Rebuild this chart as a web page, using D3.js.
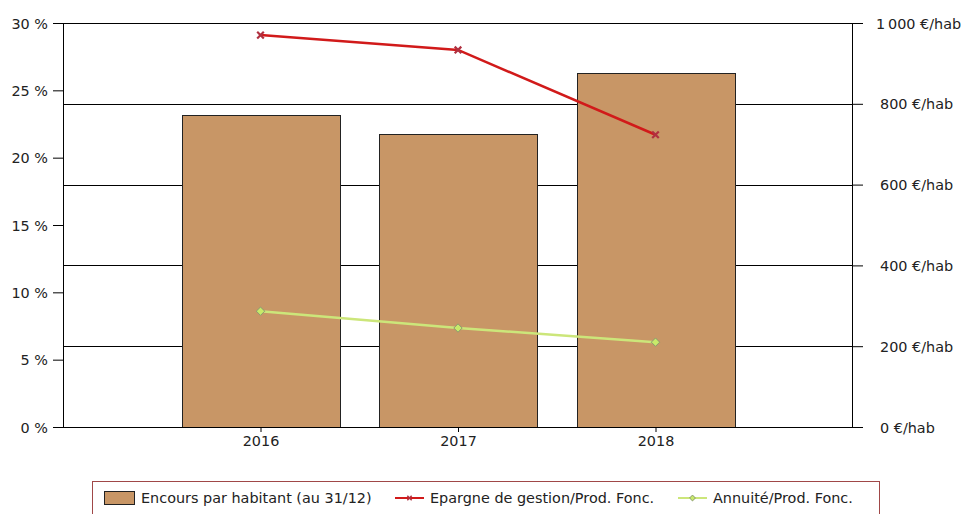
<!DOCTYPE html>
<html>
<head>
<meta charset="utf-8">
<script src="https://cdn.jsdelivr.net/npm/d3@7"></script>
<style>
  body { margin: 0; background: #fff; }
  text { font-family: "DejaVu Sans", Verdana, sans-serif; }
</style>
</head>
<body>
<div id="container"></div>
<script>
const years = ["2016", "2017", "2018"];
const encours = [772, 725, 876];          // €/hab, right axis
const epargne = [29.1, 28.0, 21.7];       // %, left axis
const annuite = [8.6, 7.35, 6.3];         // %, left axis
const leftTicks = [0, 5, 10, 15, 20, 25, 30];
const rightTicks = [0, 200, 400, 600, 800, 1000];
const legendLabels = ["Encours par habitant (au 31/12)", "Epargne de gestion/Prod. Fonc.", "Annuité/Prod. Fonc."];

const W = 967, H = 514;
const FS = 14.4;
const margin = { top: 23, right: 114, bottom: 87, left: 63 };
const width = W - margin.left - margin.right,
      height = H - margin.top - margin.bottom;

const svg = d3.select("#container").append("svg")
  .attr("width", W).attr("height", H);
const g = svg.append("g").attr("transform", `translate(${margin.left},${margin.top})`);

// x: 4 slots, years sit on 1..3
const x = d3.scaleLinear().domain([0, 4]).range([0, width]);
const slot = x(1) - x(0);
const yL = d3.scaleLinear().domain([0, 30]).range([height, 0]);
const yR = d3.scaleLinear().domain([0, 1000]).range([height, 0]);

// gridlines (right axis ticks)
g.selectAll(".grid").data(rightTicks.slice(1)).enter().append("line")
  .attr("x1", 0).attr("x2", width)
  .attr("y1", d => Math.round(yR(d)) + 0.5).attr("y2", d => Math.round(yR(d)) + 0.5)
  .attr("stroke", "#000").attr("stroke-width", 1);

// bars
const bw = slot * 0.8;
g.selectAll(".bar").data(encours).enter().append("rect")
  .attr("x", (d, i) => Math.round(x(i + 1) - bw / 2) + 0.5)
  .attr("y", d => Math.round(yR(d)) + 0.5)
  .attr("width", Math.round(bw))
  .attr("height", d => height - Math.round(yR(d)))
  .attr("fill", "#c89666")
  .attr("stroke", "#222").attr("stroke-width", 1);

// axes
const axL = g.append("g").call(d3.axisLeft(yL).tickValues(leftTicks).tickSize(10).tickPadding(5).tickFormat(d => d + " %"));
const axR = g.append("g").attr("transform", `translate(${width},0)`)
  .call(d3.axisRight(yR).tickValues(rightTicks).tickSize(10).tickPadding(17)
    .tickFormat(d => (d >= 1000 ? d3.format(",")(d).replace(",", "\u202f") : d) + " €/hab"));
const axB = g.append("g").attr("transform", `translate(0,${height})`)
  .call(d3.axisBottom(x).tickValues([1, 2, 3]).tickSize(5).tickPadding(4).tickFormat(d => years[d - 1]));
[axL, axR, axB].forEach(a => {
  a.select(".domain").remove();
  a.selectAll("text").attr("font-size", FS).attr("fill", "#222")
    .style("font-family", "'DejaVu Sans', Verdana, sans-serif");
  a.selectAll(".tick line").attr("stroke", "#000");
});
axL.selectAll("text").attr("dy", "0.35em");
axR.selectAll("text").attr("dy", "0.35em");
axR.selectAll("text").filter(d => d >= 1000).attr("dx", -4);

// frame lines
g.append("line").attr("x1", 0.5).attr("x2", 0.5).attr("y1", 0).attr("y2", height).attr("stroke", "#000");
g.append("line").attr("x1", width - 0.5).attr("x2", width - 0.5).attr("y1", 0).attr("y2", height).attr("stroke", "#000");
g.append("line").attr("x1", 0).attr("x2", width).attr("y1", 0.5).attr("y2", 0.5).attr("stroke", "#000");
g.append("line").attr("x1", 0).attr("x2", width).attr("y1", height + 0.5).attr("y2", height + 0.5).attr("stroke", "#000");

// lines
const line = d3.line().x((d, i) => x(i + 1)).y(d => yL(d));
g.append("path").datum(epargne).attr("d", line)
  .attr("fill", "none").attr("stroke", "#d11a1a").attr("stroke-width", 2.5);
g.append("path").datum(annuite).attr("d", line)
  .attr("fill", "none").attr("stroke", "#cce67a").attr("stroke-width", 2.5);

const cross = d3.symbol().type(d3.symbolX).size(30);
g.selectAll(".mx").data(epargne).enter().append("path")
  .attr("d", cross)
  .attr("transform", (d, i) => `translate(${x(i + 1)},${yL(d)})`)
  .attr("stroke", "#b03040").attr("stroke-width", 2.2).attr("fill", "none");
const diamond = d3.symbol().type(d3.symbolDiamond2).size(45);
g.selectAll(".md").data(annuite).enter().append("path")
  .attr("d", diamond)
  .attr("transform", (d, i) => `translate(${x(i + 1)},${yL(d)})`)
  .attr("fill", "#c8ea6a").attr("stroke", "#8a9a70").attr("stroke-width", 1);

// legend
const lg = svg.append("g");
lg.append("rect").attr("x", 92.5).attr("y", 481.5).attr("width", 787).attr("height", 40)
  .attr("fill", "#fff").attr("stroke", "#a04848").attr("stroke-width", 1);
lg.append("rect").attr("x", 104.5).attr("y", 491.5).attr("width", 30).attr("height", 13)
  .attr("fill", "#c89666").attr("stroke", "#222");
lg.append("text").attr("x", 141).attr("y", 503).attr("font-size", FS).attr("fill", "#222").text(legendLabels[0]);
lg.append("line").attr("x1", 395).attr("x2", 424).attr("y1", 498).attr("y2", 498)
  .attr("stroke", "#d11a1a").attr("stroke-width", 2);
lg.append("path").attr("d", d3.symbol().type(d3.symbolX).size(14))
  .attr("transform", "translate(409.5,498)").attr("stroke", "#b03040").attr("stroke-width", 1.5);
lg.append("text").attr("x", 430).attr("y", 503).attr("font-size", FS).attr("fill", "#222").text(legendLabels[1]);
lg.append("line").attr("x1", 678).attr("x2", 707).attr("y1", 498).attr("y2", 498)
  .attr("stroke", "#cce67a").attr("stroke-width", 2);
lg.append("path").attr("d", d3.symbol().type(d3.symbolDiamond2).size(22))
  .attr("transform", "translate(692.5,498)").attr("fill", "#c8ea6a").attr("stroke", "#8a9a70");
lg.append("text").attr("x", 713).attr("y", 503).attr("font-size", FS).attr("fill", "#222").text(legendLabels[2]);
</script>
</body>
</html>
